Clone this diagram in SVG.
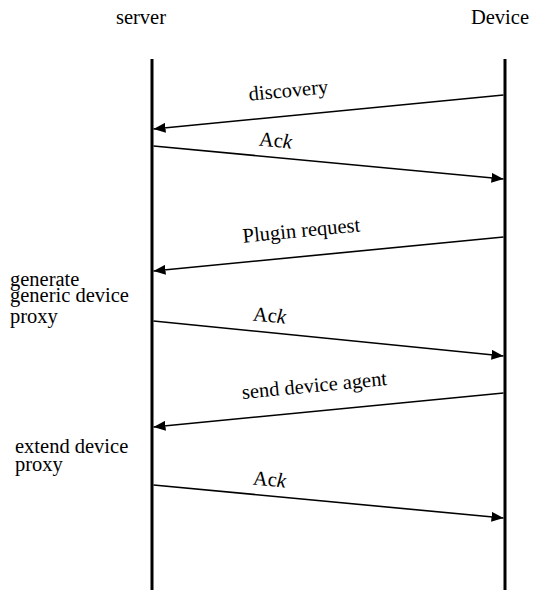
<svg xmlns="http://www.w3.org/2000/svg" width="534" height="590" viewBox="0 0 534 590" font-family="'Liberation Serif', 'DejaVu Serif', serif" font-size="20.5">
  <style>
    text { font-family: "Liberation Serif", "DejaVu Serif", serif; font-size: 20.5px; fill: #000; }
    .msg { text-anchor: middle; }
    .life { stroke: #000; stroke-width: 3; fill: none; }
    .arrow { stroke: #000; stroke-width: 1.6; fill: none; marker-end: url(#head); }
  </style>
  <defs>
    <marker id="head" viewBox="0 0 12 10" refX="12" refY="5" markerWidth="12" markerHeight="10" markerUnits="userSpaceOnUse" orient="auto">
      <path d="M0,0 L12,5 L0,10 Z" fill="#000"/>
    </marker>
  </defs>

  <!-- participants -->
  <g id="server">
    <text x="141" y="24" text-anchor="middle">server</text>
    <line class="life" x1="152" y1="59" x2="152" y2="590"/>
  </g>
  <g id="device">
    <text x="500" y="24" text-anchor="middle">Device</text>
    <line class="life" x1="505" y1="59" x2="505" y2="590"/>
  </g>

  <!-- activity notes on the server side -->
  <g id="note-generate">
    <text x="10" y="286">generate</text>
    <text x="10" y="302">generic device</text>
    <text x="10" y="323">proxy</text>
  </g>
  <g id="note-extend">
    <text x="15" y="453">extend device</text>
    <text x="15" y="471">proxy</text>
  </g>

  <!-- messages -->
  <g id="connectors">
    <line class="arrow" x1="503.5" y1="95" x2="153.5" y2="129"/>
    <line class="arrow" x1="153.5" y1="146" x2="503.5" y2="179"/>
    <line class="arrow" x1="503.5" y1="237" x2="153.5" y2="271"/>
    <line class="arrow" x1="153.5" y1="321" x2="503.5" y2="356"/>
    <line class="arrow" x1="503.5" y1="393" x2="153.5" y2="427"/>
    <line class="arrow" x1="153.5" y1="485" x2="503.5" y2="518"/>
  </g>

  <g id="labels">
    <text class="msg" transform="translate(289,97) rotate(-5.5)">discovery</text>
    <text class="msg" transform="translate(275,147) rotate(5.5)">Ac<tspan font-style="italic">k</tspan></text>
    <text class="msg" transform="translate(302,237) rotate(-5.5)">Plugin request</text>
    <text class="msg" transform="translate(269,322) rotate(5.5)">Ac<tspan font-style="italic">k</tspan></text>
    <text class="msg" transform="translate(315,392) rotate(-5.5)">send device agent</text>
    <text class="msg" transform="translate(269,486) rotate(5.5)">Ac<tspan font-style="italic">k</tspan></text>
  </g>
</svg>
